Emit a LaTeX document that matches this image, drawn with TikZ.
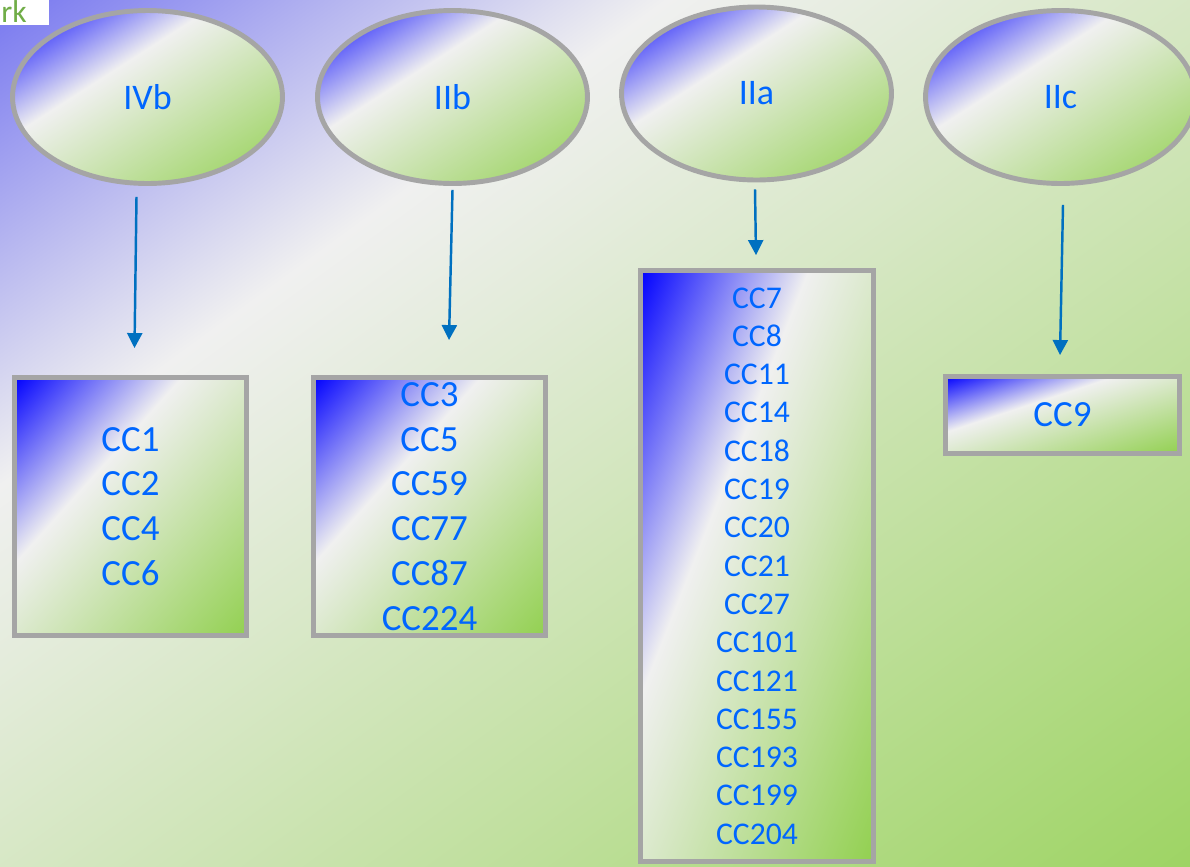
\documentclass[tikz,border=0pt]{standalone}
\usepackage{fontspec}
\setmainfont{Carlito}
\usepackage{xcolor}
\usepackage{tikz}
\usetikzlibrary{shapes,arrows,positioning,calc,arrows.meta}

\definecolor{rimgray}{RGB}{165,165,165}
\definecolor{labelblue}{RGB}{0,102,255}
\definecolor{arrowblue}{RGB}{0,112,192}
\definecolor{tabgreen}{RGB}{112,173,71}

% diagonal gradients, top left to bottom right, scaled with the shape
\pgfdeclarefunctionalshading{bgfill}{\pgfpointorigin}{\pgfpoint{100bp}{100bp}}{}{
  sub 50 add 100 div
  dup 0 lt {pop 0} if dup 1 gt {pop 1} if
  dup 0.28 lt
  {0.28 div dup 120 mul 120 add 255 div exch dup 120 mul 120 add 255 div exch 0 mul 240 add 255 div}
  {0.28 sub 0.72 div dup -82 mul 240 add 255 div exch dup -28 mul 240 add 255 div exch -140 mul 240 add 255 div}
  ifelse
}
\pgfdeclarefunctionalshading{shapefill}{\pgfpointorigin}{\pgfpoint{100bp}{100bp}}{}{
  sub 50 add 100 div
  dup 0 lt {pop 0} if dup 1 gt {pop 1} if
  dup 0.36 lt
  {0.36 div dup 240 mul 255 div exch dup 240 mul 255 div exch -15 mul 255 add 255 div}
  {0.36 sub 0.64 div dup -94 mul 240 add 255 div exch dup -32 mul 240 add 255 div exch -160 mul 240 add 255 div}
  ifelse
}

\tikzset{
    clade/.style={ellipse, draw=rimgray, line width=2.8pt, shading=shapefill,
        minimum width=5.4cm, minimum height=3.46cm, inner sep=0pt, text=labelblue,
        font=\fontsize{20.5}{24}\selectfont},
    ccbox/.style={rectangle, draw=rimgray, line width=2.8pt, shading=shapefill,
        inner sep=0pt, align=center, text=labelblue, font=\fontsize{21}{25.5}\selectfont},
    ccarrow/.style={draw=arrowblue, line width=1.4pt, -{Triangle[length=0.3cm,width=0.3cm]}}
}

\begin{document}
\begin{tikzpicture}[x=0.02cm, y=-0.02cm]
    % Background
    \useasboundingbox (0,0) rectangle (1190,866);
    \clip (0,0) rectangle (1190,866);
    \shade[shading=bgfill] (0,0) rectangle (1190,866);
    % Title tab (cut off)
    \fill[white] (0,0) rectangle (49,25);
    \node[anchor=base west, inner sep=0pt, text=tabgreen, font=\fontsize{18}{22}\selectfont] (tab) at (1,22) {rk};
    % Types
    \node[clade] (ivb) at (147.5,97) {IVb};
    \node[clade] (iib) at (452.5,97) {IIb};
    \node[clade] (iia) at (756.5,93.5) {IIa};
    \node[clade] (iic) at (1060.5,97) {IIc};
    % Member lists
    \node[ccbox, minimum width=4.64cm, minimum height=5.16cm] (c1) at (130.5,506.5) {CC1\\CC2\\CC4\\CC6};
    \node[ccbox, minimum width=4.64cm, minimum height=5.16cm] (c2) at (429.5,506.5) {CC3\\CC5\\CC59\\CC77\\CC87\\CC224};
    \node[ccbox, minimum width=4.66cm, minimum height=11.82cm, font=\fontsize{18}{21.8}\selectfont] (c3) at (757,566)
        {CC7\\CC8\\CC11\\CC14\\CC18\\CC19\\CC20\\CC21\\CC27\\CC101\\CC121\\CC155\\CC193\\CC199\\CC204};
    \node[ccbox, minimum width=4.68cm, minimum height=1.54cm] (c4) at (1062.5,415) {CC9};
    % Arrows
    \draw[ccarrow] ($(ivb.south)+(-11,11)$) -- ($(c1.north)+(4,-27)$);
    \draw[ccarrow] ($(iib.south)+(0,4)$) -- ($(c2.north)+(19.5,-35)$);
    \draw[ccarrow] ($(iia.south)+(-1.5,7)$) -- ($(c3.north)+(-1,-13)$);
    \draw[ccarrow] ($(iic.south)+(2.5,19)$) -- ($(c4.north)+(-2.5,-19)$);
\end{tikzpicture}
\end{document}
